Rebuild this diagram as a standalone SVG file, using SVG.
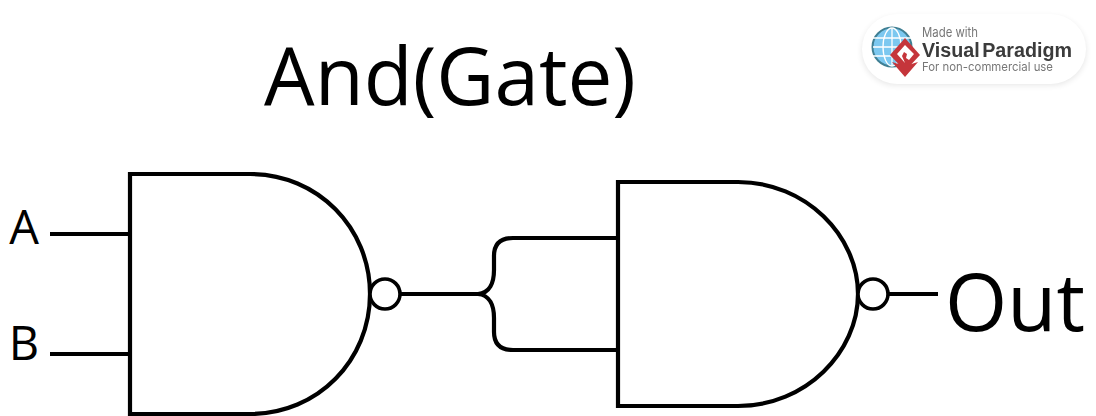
<svg xmlns="http://www.w3.org/2000/svg" width="1096" height="416" viewBox="0 0 1096 416">
<defs>
<filter id="sh" x="-10%" y="-20%" width="120%" height="140%"><feGaussianBlur stdDeviation="3"/></filter>
<filter id="soft" x="-5%" y="-5%" width="110%" height="110%"><feGaussianBlur stdDeviation="0.45"/></filter>
</defs>
<style>
.w{fill:none;stroke:#000;stroke-width:4.2}
.g{fill:#fff;stroke:#000;stroke-width:4.2}
.c{fill:#fff;stroke:#000;stroke-width:3.6}
.t{font-family:"Open Sans","Noto Sans",sans-serif;fill:#000}
.l{font-family:"Inter","Liberation Sans",Arial,sans-serif;fill:#777}
</style>
<rect width="1096" height="416" fill="#fff"/>
<text id="title" class="t" x="450" y="104.500" font-size="80" text-anchor="middle">And(Gate)</text>
<g id="connectors">
<path class="w" d="M50 234H130"/>
<path class="w" d="M50 354H130"/>
<path class="w" d="M400 294H478C490 293 494 282 494 270V256C494 244 500 238 513 238H618"/>
<path class="w" d="M478 294C490 295 494 306 494 318V332C494 344 500 350 513 350H618"/>
<path class="w" d="M888 294H938"/>
</g>
<g id="gate1">
<path class="g" d="M130 174H250C318 174 370 228 370 294S318 414 250 414H130Z"/>
<circle class="c" cx="385" cy="294" r="15"/>
</g>
<g id="gate2">
<path class="g" d="M618 182H738C806 182 858 236 858 294S806 406 738 406H618Z"/>
<circle class="c" cx="873" cy="294" r="15"/>
</g>
<g id="labelA"><text class="t" x="24" y="244" font-size="47" text-anchor="middle">A</text></g>
<g id="labelB"><text class="t" x="24" y="360" font-size="47" text-anchor="middle">B</text></g>
<g id="labelOut"><text class="t" x="1015" y="331" font-size="80" text-anchor="middle">Out</text></g>
<g id="badge">
<rect x="862" y="17" width="224" height="68" rx="34" fill="#000" opacity="0.1" filter="url(#sh)"/>
<rect x="862" y="14" width="224" height="70" rx="35" fill="#fff"/>
<g filter="url(#soft)">
<circle cx="892" cy="47" r="19.500" fill="#7cc8f0" stroke="#3f7f93" stroke-width="2"/>
<g fill="none" stroke="#fff" stroke-width="1.3">
<ellipse cx="892" cy="47" rx="9" ry="19"/>
<path d="M892 28V66M873 38H911M873 47H911M873 56H911"/>
</g>
<path d="M892 62L905 77L918 62L905 66Z" fill="#c5363a"/>
<path d="M890 55L905 38L920 55L905 71Z" fill="#c5363a"/>
<path d="M897 54L905 45L914 54L909 60L906 58L907 54L904 52L902 56L905 63Z" fill="#fff"/>
<text class="l" x="922" y="37" font-size="13" textLength="56" lengthAdjust="spacingAndGlyphs">Made with</text>
<text x="922" y="57" font-size="20" font-weight="700" textLength="150" lengthAdjust="spacingAndGlyphs" word-spacing="-3" font-family="Liberation Sans, Arial, sans-serif" fill="#3a3a3a">Visual Paradigm</text>
<text class="l" x="922" y="71" font-size="12" textLength="131" lengthAdjust="spacingAndGlyphs">For non-commercial use</text>
</g>
</g>
</svg>
